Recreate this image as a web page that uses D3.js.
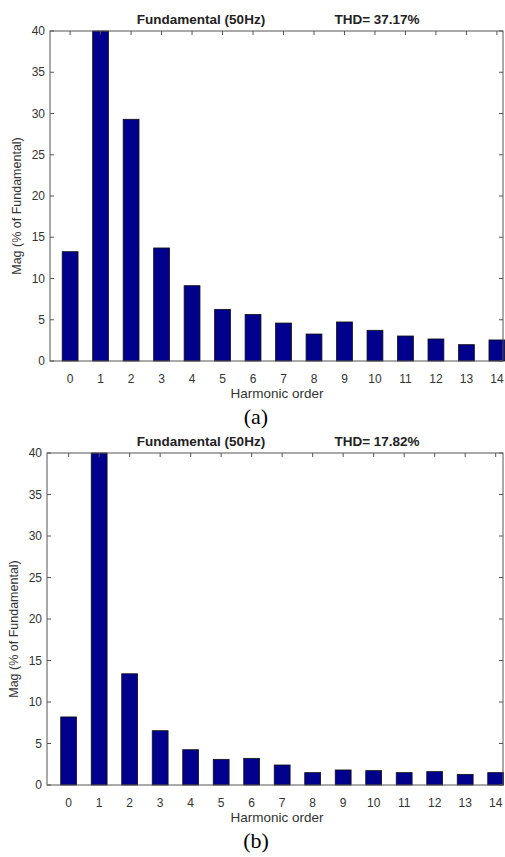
<!DOCTYPE html>
<html>
<head>
<meta charset="utf-8">
<script src="https://cdn.jsdelivr.net/npm/d3@7"></script>
<style>
  html, body { margin: 0; padding: 0; background: #fff; }
  svg { display: block; }
</style>
</head>
<body>
<svg id="chart"></svg>
<script>
// Harmonic orders and magnitudes (% of fundamental)
const harmonicOrders = [0, 1, 2, 3, 4, 5, 6, 7, 8, 9, 10, 11, 12, 13, 14]
const magA = [13.25, 100, 29.3, 13.7, 9.13, 6.26, 5.65, 4.6, 3.27, 4.73, 3.72, 3.03, 2.67, 1.98, 2.55]
const magB = [8.2, 100, 13.4, 6.54, 4.25, 3.09, 3.21, 2.41, 1.49, 1.81, 1.73, 1.49, 1.61, 1.28, 1.49]
const yTicks = [0, 5, 10, 15, 20, 25, 30, 35, 40]
const thdA = 'THD= 37.17%'
const thdB = 'THD= 17.82%'

const width = 505
const height = 857

const svg = d3.select('#chart')
  .attr('width', width)
  .attr('height', height)

const axisColor = '#555'
const textColor = '#333'
const font = '"Liberation Sans", Arial, sans-serif'

const drawPanel = (values, thd, caption, box) => {
  const { left, right, top, bottom, xMin, xMax } = box
  const g = svg.append('g')

  const x = d3.scaleLinear().domain([xMin, xMax]).range([left, right])
  const y = d3.scaleLinear().domain([0, 40]).range([bottom, top]).clamp(true)
  const half = 0.26

  // bars
  g.append('g')
    .selectAll('rect')
    .data(harmonicOrders)
    .enter().append('rect')
    .attr('x', d => x(d - half))
    .attr('width', d => x(d + half) - x(d - half))
    .attr('y', (d, i) => y(values[i]))
    .attr('height', (d, i) => bottom - y(values[i]))
    .attr('fill', '#00008c')
    .attr('stroke', '#111')
    .attr('stroke-width', 0.8)

  // box
  g.append('rect')
    .attr('x', left)
    .attr('y', top)
    .attr('width', right - left)
    .attr('height', bottom - top)
    .attr('fill', 'none')
    .attr('stroke', axisColor)
    .attr('stroke-width', 1)

  // y ticks (inward, both sides)
  const tickLen = 4
  g.append('g').selectAll('line.yl')
    .data(yTicks).enter().append('line')
    .attr('x1', left).attr('x2', left + tickLen)
    .attr('y1', d => y(d)).attr('y2', d => y(d))
    .attr('stroke', axisColor)
  g.append('g').selectAll('line.yr')
    .data(yTicks).enter().append('line')
    .attr('x1', right).attr('x2', right - tickLen)
    .attr('y1', d => y(d)).attr('y2', d => y(d))
    .attr('stroke', axisColor)

  // x ticks (inward, top and bottom)
  g.append('g').selectAll('line.xt')
    .data(harmonicOrders).enter().append('line')
    .attr('x1', d => x(d)).attr('x2', d => x(d))
    .attr('y1', top).attr('y2', top + tickLen)
    .attr('stroke', axisColor)

  // y tick labels
  g.append('g').selectAll('text')
    .data(yTicks).enter().append('text')
    .attr('x', left - 5)
    .attr('y', d => y(d))
    .attr('dy', '0.35em')
    .attr('text-anchor', 'end')
    .attr('font-family', font)
    .attr('font-size', '12px')
    .attr('fill', textColor)
    .text(d => d)

  // x tick labels
  g.append('g').selectAll('text')
    .data(harmonicOrders).enter().append('text')
    .attr('x', d => x(d))
    .attr('y', bottom + 22)
    .attr('text-anchor', 'middle')
    .attr('font-family', font)
    .attr('font-size', '12px')
    .attr('fill', textColor)
    .text(d => d)

  // axis labels
  g.append('text')
    .attr('x', 277)
    .attr('y', bottom + 37)
    .attr('text-anchor', 'middle')
    .attr('font-family', font)
    .attr('font-size', '13.5px')
    .attr('fill', textColor)
    .text('Harmonic order')

  g.append('text')
    .attr('transform', `translate(${left - 29}, ${(top + bottom) / 2 + 10}) rotate(-90)`)
    .attr('text-anchor', 'middle')
    .attr('font-family', font)
    .attr('font-size', '12.5px')
    .attr('fill', textColor)
    .text('Mag (% of Fundamental)')

  // titles
  g.append('text')
    .attr('x', 201)
    .attr('y', top - 7)
    .attr('text-anchor', 'middle')
    .attr('font-family', font)
    .attr('font-size', '13.5px')
    .attr('font-weight', 'bold')
    .attr('fill', '#222')
    .text('Fundamental (50Hz)')

  g.append('text')
    .attr('x', 377)
    .attr('y', top - 7)
    .attr('text-anchor', 'middle')
    .attr('font-family', font)
    .attr('font-size', '13.5px')
    .attr('font-weight', 'bold')
    .attr('fill', '#222')
    .text(thd)

  // caption
  g.append('text')
    .attr('x', 256)
    .attr('y', bottom + 63)
    .attr('text-anchor', 'middle')
    .attr('font-family', '"Liberation Serif", "Times New Roman", serif')
    .attr('font-size', '22px')
    .attr('fill', '#000')
    .text(caption)
}

drawPanel(magA, thdA, '(a)', { left: 50, right: 503, top: 31, bottom: 361, xMin: -0.66, xMax: 14.2 })
drawPanel(magB, thdB, '(b)', { left: 47, right: 503, top: 453, bottom: 785, xMin: -0.71, xMax: 14.24 })
</script>
</body>
</html>
